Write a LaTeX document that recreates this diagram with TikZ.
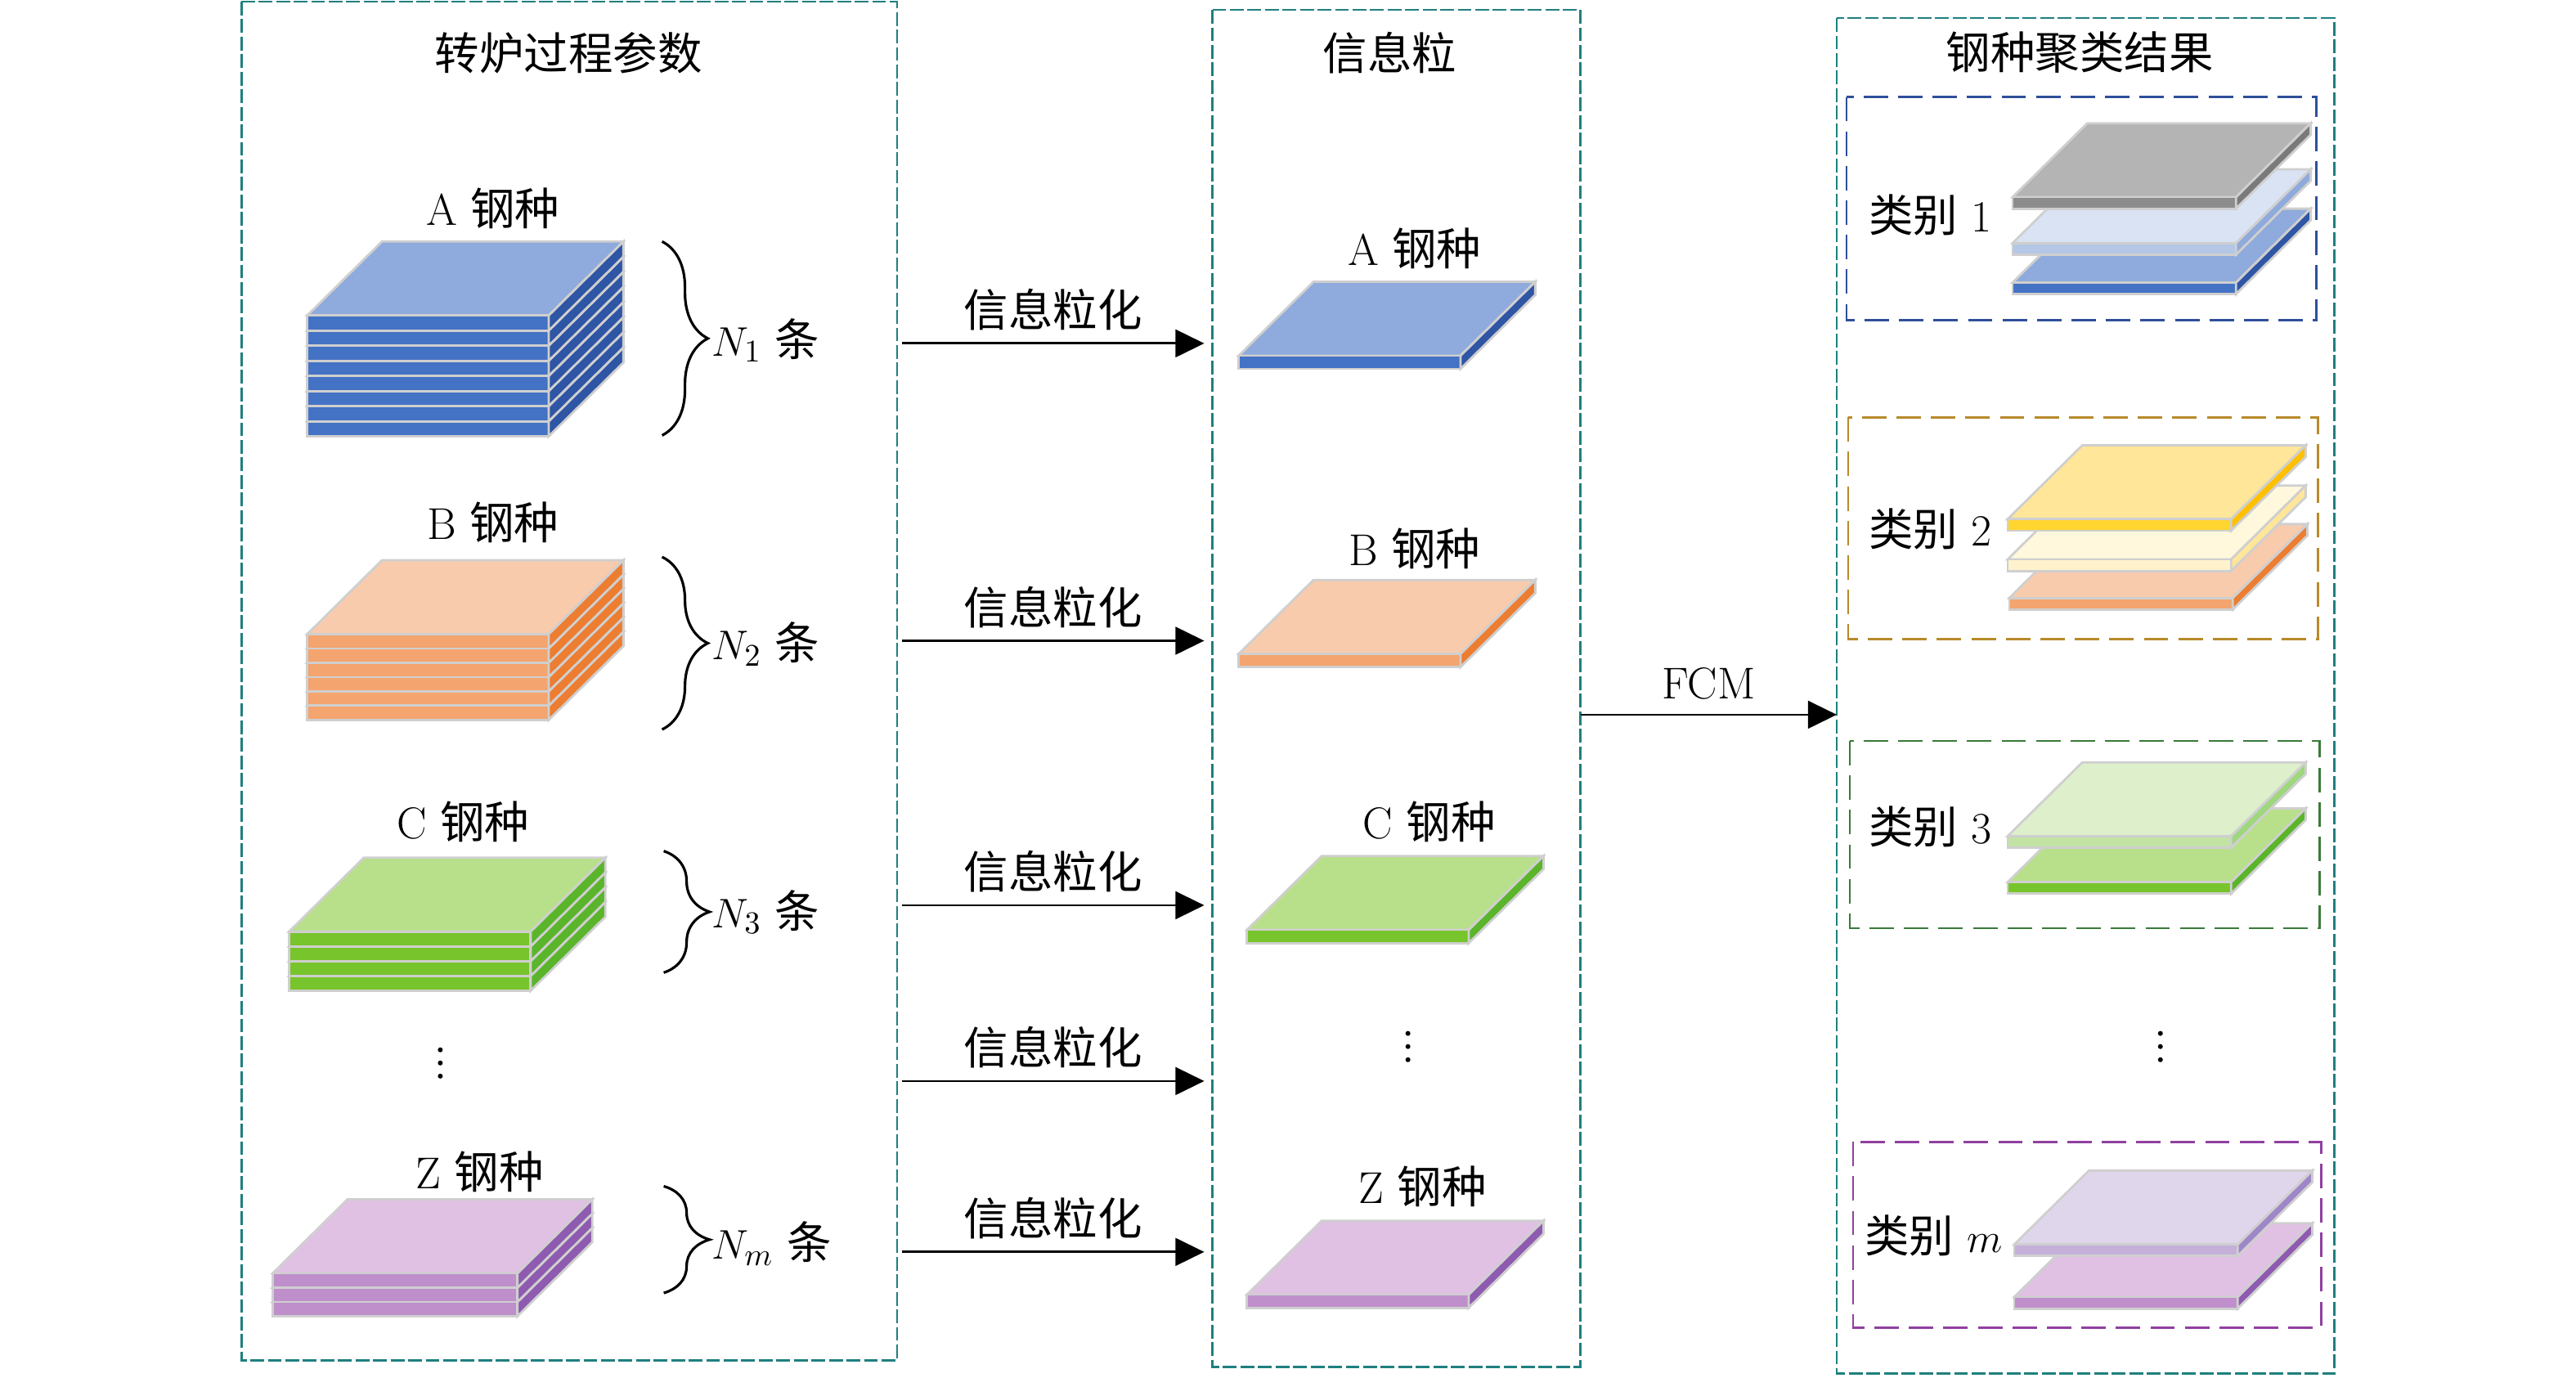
\documentclass[tikz,border=0pt]{standalone}
\usepackage{amsmath}
\usepackage{fontspec}
\newfontfamily\cjk{Noto Sans CJK SC}
\usetikzlibrary{arrows.meta, decorations.pathreplacing}

\definecolor{frameteal}{HTML}{1F7F7F}
\definecolor{grpblue}{HTML}{2F4F9A}
\definecolor{grpgold}{HTML}{B88A2A}
\definecolor{grpgreen}{HTML}{3A7A3A}
\definecolor{grppurple}{HTML}{9040A0}
\definecolor{platerim}{HTML}{CFCFCF}
\definecolor{bluetop}{HTML}{8FAADC}
\definecolor{bluefront}{HTML}{4472C4}
\definecolor{blueside}{HTML}{2F55A5}
\definecolor{orangetop}{HTML}{F8CBAD}
\definecolor{orangefront}{HTML}{F4A46E}
\definecolor{orangeside}{HTML}{ED7D31}
\definecolor{greentop}{HTML}{B8E08A}
\definecolor{greenfront}{HTML}{78C42C}
\definecolor{greenside}{HTML}{5AB52B}
\definecolor{purpletop}{HTML}{E0C1E4}
\definecolor{purplefront}{HTML}{BF8FCC}
\definecolor{purpleside}{HTML}{8E5BB0}
\definecolor{graytop}{HTML}{B4B4B4}
\definecolor{grayfront}{HTML}{8C8C8C}
\definecolor{grayside}{HTML}{7A7A7A}
\definecolor{ltbluetop}{HTML}{DAE3F3}
\definecolor{ltbluefront}{HTML}{B4C7E7}
\definecolor{ltblueside}{HTML}{8FAADC}
\definecolor{yellowtop}{HTML}{FFE699}
\definecolor{yellowfront}{HTML}{FFD530}
\definecolor{yellowside}{HTML}{FFC000}
\definecolor{creamtop}{HTML}{FFF8DC}
\definecolor{creamfront}{HTML}{FFF2CC}
\definecolor{creamside}{HTML}{FFE699}
\definecolor{ltgreentop}{HTML}{DDF0CB}
\definecolor{ltgreenfront}{HTML}{C2E3A4}
\definecolor{ltgreenside}{HTML}{9ED77C}
\definecolor{lavtop}{HTML}{E0D6EC}
\definecolor{lavfront}{HTML}{C5B0DA}
\definecolor{lavside}{HTML}{9E86C8}

\def\slabdx{45.5}
\def\slabdy{45}
% slab: x, y (front top left), width, thickness, top, front, side
\newcommand{\slab}[7]{%
  \filldraw[plate, fill=#5] (#1,#2) -- ++(\slabdx,-\slabdy) -- ++(#3,0) -- ++(-\slabdx,\slabdy) -- cycle;
  \filldraw[plate, fill=#6] (#1,#2) rectangle ++(#3,#4);
  \filldraw[plate, fill=#7] (#1+#3,#2) -- ++(\slabdx,-\slabdy) -- ++(0,#4) -- ++(-\slabdx,\slabdy) -- cycle;
}
% three dots, centred at x, y
\newcommand{\threedots}[2]{%
  \foreach \k in {-1,0,1} {\fill (#1,#2+\k*8) circle (1.5);}
}

\tikzset{
  plate/.style={draw=platerim, line width=0.8pt},
  frame/.style={draw=frameteal, line width=0.75pt, dash pattern=on 4.8pt off 1.3pt},
  group/.style={line width=0.75pt, dash pattern=on 8.5pt off 3.5pt},
  flow/.style={-{Triangle[length=10pt,width=9.6pt]}, line width=0.8pt},
  lbl/.style={font=\fontsize{15.5}{18}\selectfont, inner sep=0pt},
  curly/.style={decorate, decoration={brace, amplitude=5.6mm}, line width=0.9pt},
}

\begin{document}
\begin{tikzpicture}[x=0.2009mm, y=-0.2009mm]
\useasboundingbox (0,0) rectangle (1568,838.7);

% frames
\draw[frame] (147,1) rectangle (546,828);
\draw[frame] (738,6) rectangle (962,832);
\draw[frame] (1118,11) rectangle (1421,836);
\node[lbl] (hleft) at (346,32) {\cjk 转炉过程参数};
\node[lbl] (hmid) at (846,32) {\cjk 信息粒};
\node[lbl] (hright) at (1266,32) {\cjk 钢种聚类结果};

% left stacks
\node[lbl] (la) at (300,127) {A {\cjk 钢种}};
\foreach \i in {7,...,0} {\slab{187}{192+\i*9.2}{147}{9.2}{bluetop}{bluefront}{blueside}}
\node[lbl] (lb) at (300,318) {B {\cjk 钢种}};
\foreach \i in {5,...,0} {\slab{187}{386+\i*8.7}{147}{8.7}{orangetop}{orangefront}{orangeside}}
\node[lbl] (lc) at (282,500) {C {\cjk 钢种}};
\foreach \i in {3,...,0} {\slab{176}{567+\i*9}{147}{9}{greentop}{greenfront}{greenside}}
\threedots{268}{647}
\node[lbl] (lz) at (292,713) {Z {\cjk 钢种}};
\foreach \i in {2,...,0} {\slab{166}{775+\i*8.7}{149}{8.7}{purpletop}{purplefront}{purpleside}}

% braces
\coordinate (ua) at (403,147); \coordinate (da) at (403,265);
\coordinate (ub) at (403,339); \coordinate (db) at (403,444);
\coordinate (uc) at (404,518); \coordinate (dc) at (404,592);
\coordinate (uz) at (404,722); \coordinate (dz) at (404,787);
\draw[curly] (ua) -- (da);
\draw[curly] (ub) -- (db);
\draw[curly] (uc) -- (dc);
\draw[curly] (uz) -- (dz);
\node[lbl, anchor=west] (na) at (433,207) {$N_1$ {\cjk 条}};
\node[lbl, anchor=west] (nb) at (433,392) {$N_2$ {\cjk 条}};
\node[lbl, anchor=west] (nc) at (433,555) {$N_3$ {\cjk 条}};
\node[lbl, anchor=west] (nz) at (433,757) {$N_m$ {\cjk 条}};

% granulation arrows
\foreach \i/\y in {1/209,2/390,3/551,4/658,5/762} {
  \coordinate (s\i) at (549,\y);
  \coordinate (e\i) at (733,\y);
  \draw[flow] (s\i) -- (e\i) node[lbl, midway, above=4pt] (g\i) {\cjk 信息粒化};
}

% granules
\node[lbl] (ma) at (861,151) {A {\cjk 钢种}};
\slab{754}{216.5}{135}{8}{bluetop}{bluefront}{blueside}
\node[lbl] (mb) at (861,334) {B {\cjk 钢种}};
\slab{754}{398}{135}{8}{orangetop}{orangefront}{orangeside}
\node[lbl] (mc) at (870,500) {C {\cjk 钢种}};
\slab{759}{566}{135}{8}{greentop}{greenfront}{greenside}
\threedots{857}{637}
\node[lbl] (mz) at (866,722) {Z {\cjk 钢种}};
\slab{759}{788}{135}{8}{purpletop}{purplefront}{purpleside}

% FCM
\coordinate (fs) at (962,435);
\coordinate (fe) at (1118,435);
\draw[flow] (fs) -- (fe) node[lbl, midway, above=5pt] (fcm) {FCM};

% clusters
\draw[group, draw=grpblue] (1124,59) rectangle (1410,195);
\node[lbl] (k1) at (1175,131) {{\cjk 类别} 1};
\slab{1225}{172}{136}{7}{bluetop}{bluefront}{blueside}
\slab{1225}{148}{136}{7}{ltbluetop}{ltbluefront}{ltblueside}
\slab{1225}{120}{136}{7}{graytop}{grayfront}{grayside}

\draw[group, draw=grpgold] (1125,254) rectangle (1411,389);
\node[lbl] (k2) at (1175,322) {{\cjk 类别} 2};
\slab{1223}{364}{136}{7}{orangetop}{orangefront}{orangeside}
\slab{1222}{340.5}{136}{7}{creamtop}{creamfront}{creamside}
\slab{1222}{316}{136}{7}{yellowtop}{yellowfront}{yellowside}

\draw[group, draw=grpgreen] (1126,451) rectangle (1412,565);
\node[lbl] (k3) at (1175,503) {{\cjk 类别} 3};
\slab{1222}{537}{136}{7}{greentop}{greenfront}{greenside}
\slab{1222}{509}{136}{7}{ltgreentop}{ltgreenfront}{ltgreenside}

\threedots{1315}{637}

\draw[group, draw=grppurple] (1128,695) rectangle (1413,808);
\node[lbl] (km) at (1177,752) {{\cjk 类别} $m$};
\slab{1226}{789.5}{136}{7}{purpletop}{purplefront}{purpleside}
\slab{1226}{757.5}{136}{7}{lavtop}{lavfront}{lavside}
\end{tikzpicture}
\end{document}
